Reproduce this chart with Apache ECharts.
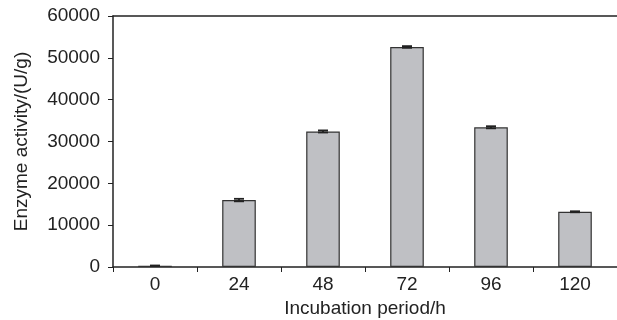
<!DOCTYPE html>
<html><head><meta charset="utf-8">
<script src="https://cdn.jsdelivr.net/npm/echarts@6/dist/echarts.min.js"></script>
<style>html,body{margin:0;padding:0;background:#fff}#c{width:617px;height:320px}</style>
</head><body><div id="c"></div>
<script>
var categories = ['0', '24', '48', '72', '96', '120'];
var activity = [300, 16000, 32400, 52600, 33400, 13200];
var errors = [60, 300, 250, 200, 250, 120];
var yTicks = [0, 10000, 20000, 30000, 40000, 50000, 60000];

var chart = echarts.init(document.getElementById('c'), null, {renderer: 'canvas'});
var font = 'Liberation Sans, Arial, sans-serif';
chart.setOption({
  animation: false,
  grid: {left: 113, right: 0, top: 16, bottom: 53, outerBoundsMode: 'none', containLabel: false},
  xAxis: [{
    type: 'category', data: categories,
    name: 'Incubation period/h', nameLocation: 'middle', nameGap: 32,
    nameTextStyle: {fontSize: 19, color: '#222', fontFamily: font},
    axisLine: {lineStyle: {color: '#222', width: 1.5}},
    axisTick: {show: true, length: 5, lineStyle: {color: '#222'}},
    axisLabel: {fontSize: 19, color: '#222', fontFamily: font, margin: 8},
    splitLine: {show: false}
  }, {
    type: 'category', data: categories, position: 'top',
    axisLine: {lineStyle: {color: '#222', width: 1.5}},
    axisTick: {show: false}, axisLabel: {show: false}
  }],
  yAxis: {
    type: 'value', min: yTicks[0], max: yTicks[yTicks.length - 1], interval: 10000,
    name: 'Enzyme activity/(U/g)', nameLocation: 'middle', nameGap: 82,
    nameTextStyle: {fontSize: 19, color: '#222', fontFamily: font},
    axisLine: {show: true, lineStyle: {color: '#222', width: 1.5}},
    axisTick: {show: true, length: 5, lineStyle: {color: '#222'}},
    axisLabel: {fontSize: 19, color: '#222', fontFamily: font, margin: 13,
      formatter: function (v) { return String(v); }},
    splitLine: {show: false}
  },
  series: [{
    type: 'bar', data: activity, barWidth: '40%',
    itemStyle: {color: '#bfc0c4', borderColor: '#333', borderWidth: 1.2}
  }, {
    type: 'custom',
    data: activity.map(function (v, i) { return [i, v, errors[i]]; }),
    renderItem: function (params, api) {
      var i = api.value(0), v = api.value(1), e = api.value(2);
      var hi = api.coord([i, v + e]);
      var lo = api.coord([i, v - e]);
      var hw = 5;
      var st = {stroke: '#222', lineWidth: 1.8};
      return {type: 'group', children: [
        {type: 'line', shape: {x1: hi[0], y1: hi[1], x2: hi[0], y2: lo[1]}, style: st},
        {type: 'line', shape: {x1: hi[0] - hw, y1: hi[1], x2: hi[0] + hw, y2: hi[1]}, style: st},
        {type: 'line', shape: {x1: lo[0] - hw, y1: lo[1], x2: lo[0] + hw, y2: lo[1]}, style: st}
      ]};
    },
    z: 5
  }]
});
</script></body></html>
